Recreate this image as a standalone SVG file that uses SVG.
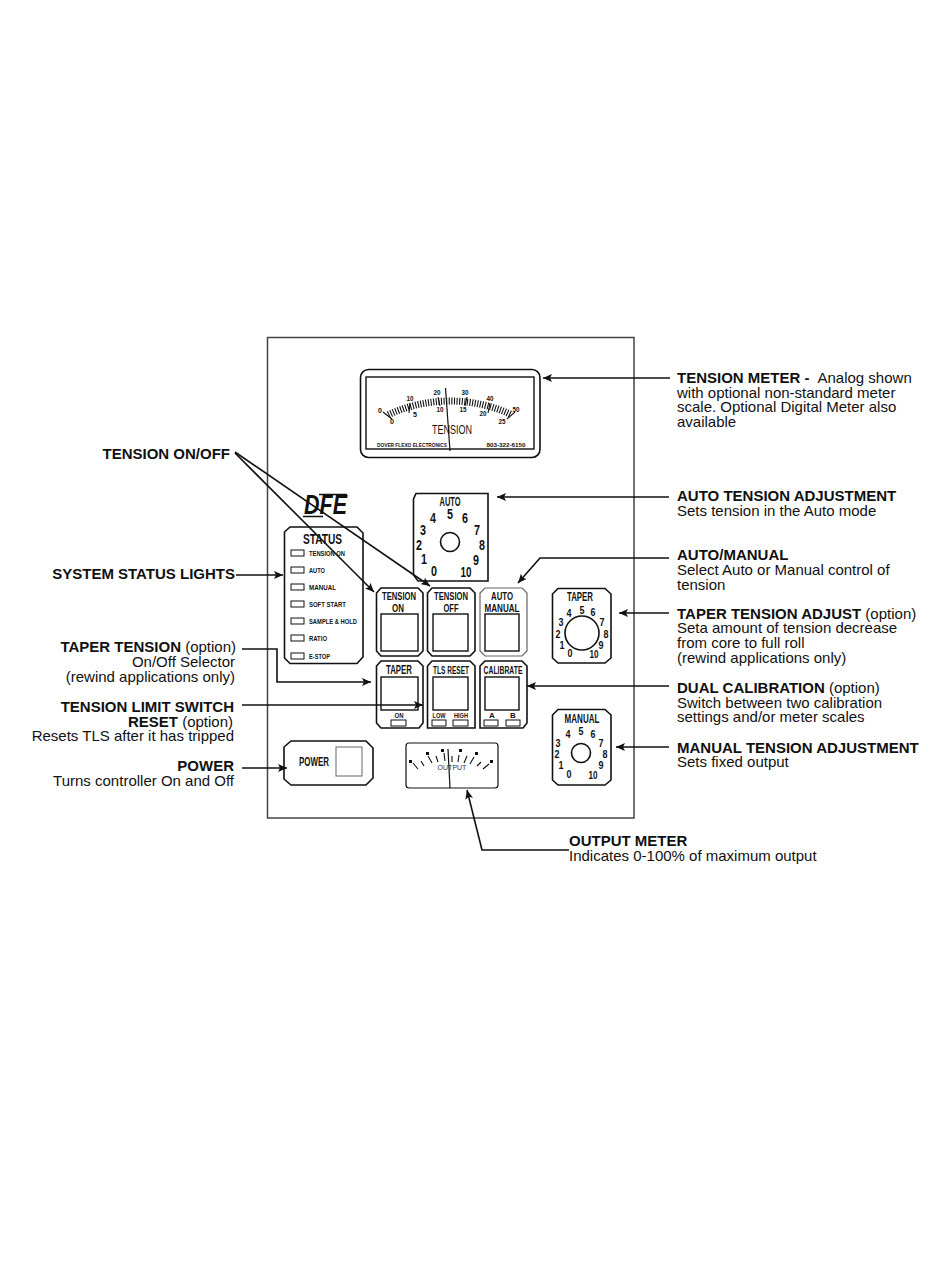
<svg xmlns="http://www.w3.org/2000/svg" width="950" height="1267" viewBox="0 0 950 1267">
<style>
text{font-family:"Liberation Sans",Arial,sans-serif;fill:#111}
.lb{font-size:15px;font-weight:700}
.tx{font-size:15px}
.r{text-anchor:end}
.n{font-weight:700;text-anchor:middle;font-size:10.500px}
.d{font-weight:700;text-anchor:middle;font-size:11px}
.a{font-weight:700;text-anchor:middle;font-size:14px}
.m{font-weight:700;text-anchor:middle;font-size:7px}
.s{font-weight:700;font-size:8px;text-anchor:start}
.o{fill:#fff;stroke:#111;stroke-width:1.6}
.w{fill:#fff;stroke:#111;stroke-width:1.4}
.t{fill:#fff;stroke:#666;stroke-width:1}
.l{fill:#fff;stroke:#111;stroke-width:1}
.c{fill:none;stroke:#111;stroke-width:1.6}
.k{fill:none;stroke:#111;stroke-width:1.1}
</style>
<defs><marker id="ah" markerUnits="userSpaceOnUse" markerWidth="10" markerHeight="8" refX="9" refY="4" orient="auto"><path d="M0 0L9 4L0 8L2 4Z" fill="#111"/></marker></defs>
<rect width="950" height="1267" fill="#fff"/>
<rect id="panel" x="267.5" y="337.5" width="366.5" height="480.5" fill="#fff" stroke="#444" stroke-width="1.5"/>

<g id="tension-meter">
<rect class="o" x="360.5" y="369.5" width="179.5" height="88" rx="8"/>
<rect class="w" x="366" y="377" width="168" height="72"/>
<path d="M388.3 414.7A146 146 0 0 1 511.7 414.7" fill="none" stroke="#111" stroke-width="7" stroke-dasharray="1.1 1.5"/>
<path class="k" d="M383 412L392 419M515 412L507 419M410 403L409 413M438 397L440 406M467 397L465 406M490 403L488 413"/>
<text class="m" x="380" y="413" textLength="4" lengthAdjust="spacingAndGlyphs">0</text><text class="m" x="410" y="401" textLength="7" lengthAdjust="spacingAndGlyphs">10</text><text class="m" x="437" y="395" textLength="7" lengthAdjust="spacingAndGlyphs">20</text><text class="m" x="465" y="395" textLength="7" lengthAdjust="spacingAndGlyphs">30</text><text class="m" x="490" y="401" textLength="7" lengthAdjust="spacingAndGlyphs">40</text><text class="m" x="516" y="412" textLength="7" lengthAdjust="spacingAndGlyphs">50</text>
<text class="m" x="392" y="424" textLength="4" lengthAdjust="spacingAndGlyphs">0</text><text class="m" x="415" y="417" textLength="4" lengthAdjust="spacingAndGlyphs">5</text><text class="m" x="440" y="412" textLength="7" lengthAdjust="spacingAndGlyphs">10</text><text class="m" x="463" y="412" textLength="7" lengthAdjust="spacingAndGlyphs">15</text><text class="m" x="483" y="416" textLength="7" lengthAdjust="spacingAndGlyphs">20</text><text class="m" x="502" y="424" textLength="7" lengthAdjust="spacingAndGlyphs">25</text>
<text x="452" y="434" text-anchor="middle" font-size="13" textLength="40" lengthAdjust="spacingAndGlyphs">TENSION</text>
<text class="m" style="font-size:6px" x="412" y="447" textLength="70" lengthAdjust="spacingAndGlyphs">DOVER FLEXO ELECTRONICS</text>
<text class="m" style="font-size:6px" x="506" y="447" textLength="39" lengthAdjust="spacingAndGlyphs">803-322-6150</text>
<path d="M445.5 388L450 451" fill="none" stroke="#111" stroke-width="1.2"/>
</g>

<g id="logo">
<text x="304" y="514" font-size="27" font-weight="700" font-style="italic" textLength="43" lengthAdjust="spacingAndGlyphs">DFE</text>
<path d="M303 516.500H323M319 494.500H347" fill="none" stroke="#111" stroke-width="1.5"/>
</g>

<g id="auto-dial">
<path class="o" d="M416 493.500H488V581H418L413.500 575V499Z"/>
<circle class="o" cx="450" cy="542" r="9.500"/>
<text class="n" x="450" y="506" style="font-size:12px" textLength="21" lengthAdjust="spacingAndGlyphs">AUTO</text>
<text class="a" textLength="6" lengthAdjust="spacingAndGlyphs" x="450" y="519">5</text><text class="a" textLength="6" lengthAdjust="spacingAndGlyphs" x="433" y="523">4</text><text class="a" textLength="6" lengthAdjust="spacingAndGlyphs" x="465" y="523">6</text><text class="a" textLength="6" lengthAdjust="spacingAndGlyphs" x="423" y="535">3</text><text class="a" textLength="6" lengthAdjust="spacingAndGlyphs" x="477" y="535">7</text><text class="a" textLength="6" lengthAdjust="spacingAndGlyphs" x="419" y="550">2</text><text class="a" textLength="6" lengthAdjust="spacingAndGlyphs" x="482" y="550">8</text><text class="a" textLength="6" lengthAdjust="spacingAndGlyphs" x="424" y="564">1</text><text class="a" textLength="6" lengthAdjust="spacingAndGlyphs" x="476" y="565">9</text><text class="a" textLength="6" lengthAdjust="spacingAndGlyphs" x="434" y="576">0</text><text class="a" textLength="11" lengthAdjust="spacingAndGlyphs" x="466" y="577">10</text>
</g>

<g id="status">
<path class="o" d="M290 527H357L363 533V657L357 663.500H290L284.500 658V532Z"/>
<text class="n" x="322.500" y="544" style="font-size:14px" textLength="39" lengthAdjust="spacingAndGlyphs">STATUS</text>
<rect class="l" x="291" y="550" width="13" height="6"/><rect class="l" x="291" y="567" width="13" height="6"/><rect class="l" x="291" y="584" width="13" height="6"/><rect class="l" x="291" y="601" width="13" height="6"/><rect class="l" x="291" y="618" width="13" height="6"/><rect class="l" x="291" y="635" width="13" height="6"/><rect class="l" x="291" y="653" width="13" height="6"/>
<text class="s" x="309" y="556" textLength="36" lengthAdjust="spacingAndGlyphs">TENSION ON</text>
<text class="s" x="309" y="573" textLength="16" lengthAdjust="spacingAndGlyphs">AUTO</text>
<text class="s" x="309" y="590" textLength="27" lengthAdjust="spacingAndGlyphs">MANUAL</text>
<text class="s" x="309" y="607" textLength="37" lengthAdjust="spacingAndGlyphs">SOFT START</text>
<text class="s" x="309" y="624" textLength="48" lengthAdjust="spacingAndGlyphs">SAMPLE &amp; HOLD</text>
<text class="s" x="309" y="641" textLength="18" lengthAdjust="spacingAndGlyphs">RATIO</text>
<text class="s" x="309" y="659" textLength="21" lengthAdjust="spacingAndGlyphs">E-STOP</text>
</g>

<g id="btn-tension-on">
<path class="o" d="M381 588H418L423 593V651L418 656H381L376.500 651V593Z"/>
<rect class="w" x="381" y="614" width="37" height="37"/>
<text class="n" x="399" y="600" textLength="34" lengthAdjust="spacingAndGlyphs">TENSION</text>
<text class="n" x="398" y="612" textLength="12" lengthAdjust="spacingAndGlyphs">ON</text>
</g>
<g id="btn-tension-off">
<path class="o" d="M432 588H470L475 593V651L470 656H432L427.500 651V593Z"/>
<rect class="w" x="433" y="614" width="35" height="37"/>
<text class="n" x="451" y="600" textLength="34" lengthAdjust="spacingAndGlyphs">TENSION</text>
<text class="n" x="451" y="612" textLength="15" lengthAdjust="spacingAndGlyphs">OFF</text>
</g>
<g id="btn-auto-manual">
<path d="M485 588H522L527 593V651L522 656H485L480 651V593Z" fill="#fff" stroke="#666" stroke-width="1.2"/>
<rect class="w" x="485" y="614" width="34" height="37"/>
<text class="n" x="502" y="600" textLength="22" lengthAdjust="spacingAndGlyphs">AUTO</text>
<text class="n" x="502" y="612" textLength="35" lengthAdjust="spacingAndGlyphs">MANUAL</text>
</g>
<g id="btn-taper">
<path class="o" d="M381 661H418L423 666V723L419 728H381L376.500 723V666Z"/>
<rect class="w" x="381" y="677" width="37" height="33"/>
<text class="n" x="399" y="674" style="font-size:12px" textLength="26" lengthAdjust="spacingAndGlyphs">TAPER</text>
<text class="n" x="399" y="718" style="font-size:8px" textLength="9" lengthAdjust="spacingAndGlyphs">ON</text>
<rect class="l" x="391" y="720" width="15" height="6"/>
</g>
<g id="btn-tls-reset">
<path class="o" d="M432 661H470L475 666V728H427.500V666Z"/>
<rect class="w" x="433" y="677" width="35" height="33"/>
<text class="n" x="451" y="674" style="font-size:10px" textLength="36" lengthAdjust="spacingAndGlyphs">TLS RESET</text>
<text class="n" x="439" y="718" style="font-size:8px" textLength="13" lengthAdjust="spacingAndGlyphs">LOW</text>
<text class="n" x="461" y="718" style="font-size:8px" textLength="14" lengthAdjust="spacingAndGlyphs">HIGH</text>
<rect class="l" x="432" y="720" width="14" height="6"/><rect class="l" x="453" y="720" width="15" height="6"/>
</g>
<g id="btn-calibrate">
<path class="o" d="M485 661H522L527 666V723L523 728H480V666Z"/>
<rect class="w" x="485" y="677" width="34" height="33"/>
<text class="n" x="503" y="674" style="font-size:10px" textLength="39" lengthAdjust="spacingAndGlyphs">CALIBRATE</text>
<text class="n" x="492" y="718" style="font-size:8px">A</text>
<text class="n" x="513" y="718" style="font-size:8px">B</text>
<rect class="l" x="484" y="720" width="14" height="6"/><rect class="l" x="506" y="720" width="14" height="6"/>
</g>

<g id="taper-dial">
<path class="o" d="M558 588.500H605L611 594V658L605 663H558L552.500 658V594Z"/>
<circle class="o" cx="582" cy="633" r="17"/>
<text class="n" x="580" y="601" style="font-size:12px" textLength="26" lengthAdjust="spacingAndGlyphs">TAPER</text>
<text class="d" textLength="5" lengthAdjust="spacingAndGlyphs" x="582" y="614">5</text><text class="d" textLength="5" lengthAdjust="spacingAndGlyphs" x="569" y="617">4</text><text class="d" textLength="5" lengthAdjust="spacingAndGlyphs" x="593" y="616">6</text><text class="d" textLength="5" lengthAdjust="spacingAndGlyphs" x="561" y="626">3</text><text class="d" textLength="5" lengthAdjust="spacingAndGlyphs" x="602" y="626">7</text><text class="d" textLength="5" lengthAdjust="spacingAndGlyphs" x="558" y="638">2</text><text class="d" textLength="5" lengthAdjust="spacingAndGlyphs" x="606" y="638">8</text><text class="d" textLength="5" lengthAdjust="spacingAndGlyphs" x="562" y="649">1</text><text class="d" textLength="5" lengthAdjust="spacingAndGlyphs" x="601" y="649">9</text><text class="d" textLength="5" lengthAdjust="spacingAndGlyphs" x="570" y="657">0</text><text class="d" textLength="9" lengthAdjust="spacingAndGlyphs" x="594" y="658">10</text>
</g>
<g id="manual-dial">
<path class="o" d="M558 709.500H605L611 715V780L605 785H558L552.500 780V715Z"/>
<circle class="o" cx="581" cy="753" r="9.500"/>
<text class="n" x="582" y="723" style="font-size:12px" textLength="35" lengthAdjust="spacingAndGlyphs">MANUAL</text>
<text class="d" textLength="5" lengthAdjust="spacingAndGlyphs" x="581" y="735">5</text><text class="d" textLength="5" lengthAdjust="spacingAndGlyphs" x="568" y="738">4</text><text class="d" textLength="5" lengthAdjust="spacingAndGlyphs" x="593" y="738">6</text><text class="d" textLength="5" lengthAdjust="spacingAndGlyphs" x="558" y="747">3</text><text class="d" textLength="5" lengthAdjust="spacingAndGlyphs" x="601" y="747">7</text><text class="d" textLength="5" lengthAdjust="spacingAndGlyphs" x="557" y="758">2</text><text class="d" textLength="5" lengthAdjust="spacingAndGlyphs" x="605" y="758">8</text><text class="d" textLength="5" lengthAdjust="spacingAndGlyphs" x="561" y="769">1</text><text class="d" textLength="5" lengthAdjust="spacingAndGlyphs" x="601" y="769">9</text><text class="d" textLength="5" lengthAdjust="spacingAndGlyphs" x="569" y="778">0</text><text class="d" textLength="9" lengthAdjust="spacingAndGlyphs" x="593" y="779">10</text>
</g>

<g id="power">
<path class="o" d="M291 741H366L373 748V778L366 785H291L284 779V747Z"/>
<text class="n" x="314" y="766" style="font-size:13px" textLength="30" lengthAdjust="spacingAndGlyphs">POWER</text>
<rect class="t" x="336" y="747" width="26" height="29"/>
</g>

<g id="output-meter">
<rect class="o" style="stroke-width:1.2" x="406" y="743" width="92" height="45" rx="3"/>
<path class="k" d="M413 763L418 769M421 761L424 766M428 756L432 763M436 756L438 762M444 753L445 761M452 756V762M459 755L458 762M467 756L464 763M474 757L470 764M481 762L477 766M489 764L483 769"/>
<path d="M409 760h3v3h-3zM426 752h3v3h-3zM441 749h3v3h-3zM459 749h3v3h-3zM475 752h3v3h-3zM490 760h3v3h-3z" fill="#111"/>
<text x="452" y="770" text-anchor="middle" font-size="7" style="fill:#333">OUTPUT</text>
<path d="M448 749L450 788" fill="none" stroke="#111" stroke-width="1.2"/>
</g>

<g id="connectors">
<path class="c" marker-end="url(#ah)" d="M670 378H543"/>
<path class="c" marker-end="url(#ah)" d="M669 497H497"/>
<path class="c" marker-end="url(#ah)" d="M669 558H540L518 583"/>
<path class="c" marker-end="url(#ah)" d="M669 613H619"/>
<path class="c" marker-end="url(#ah)" d="M669 686H527"/>
<path class="c" marker-end="url(#ah)" d="M669 747H616"/>
<path class="c" marker-end="url(#ah)" d="M569 850H482L467 790"/>
<path class="c" marker-end="url(#ah)" d="M235 453L374 592"/>
<path class="c" marker-end="url(#ah)" d="M235 452L430 586"/>
<path class="c" marker-end="url(#ah)" d="M236 575H283"/>
<path class="c" marker-end="url(#ah)" d="M242 649H277V682H371"/>
<path class="c" marker-end="url(#ah)" d="M242 705H423"/>
<path class="c" marker-end="url(#ah)" d="M242 768H287"/>
</g>

<g id="labels-right">
<text class="lb" x="677" y="383">TENSION METER -<tspan class="tx" style="font-weight:400" x="817.500">Analog shown</tspan></text>
<text class="tx" x="677" y="397.500">with optional non-standard meter</text>
<text class="tx" x="677" y="412">scale. Optional Digital Meter also</text>
<text class="tx" x="677" y="427">available</text>
<text class="lb" x="677" y="501">AUTO TENSION ADJUSTMENT</text>
<text class="tx" x="677" y="516">Sets tension in the Auto mode</text>
<text class="lb" x="677" y="560">AUTO/MANUAL</text>
<text class="tx" x="677" y="575">Select Auto or Manual control of</text>
<text class="tx" x="677" y="590">tension</text>
<text class="lb" x="677" y="618.500">TAPER TENSION ADJUST <tspan style="font-weight:400">(option)</tspan></text>
<text class="tx" x="677" y="633">Seta amount of tension decrease</text>
<text class="tx" x="677" y="648">from core to full roll</text>
<text class="tx" x="677" y="663">(rewind applications only)</text>
<text class="lb" x="677" y="693">DUAL CALIBRATION <tspan style="font-weight:400">(option)</tspan></text>
<text class="tx" x="677" y="707.500">Switch between two calibration</text>
<text class="tx" x="677" y="722">settings and/or meter scales</text>
<text class="lb" x="677" y="752.500">MANUAL TENSION ADJUSTMENT</text>
<text class="tx" x="677" y="767">Sets fixed output</text>
<text class="lb" x="569" y="846">OUTPUT METER</text>
<text class="tx" x="569" y="861">Indicates 0-100% of maximum output</text>
</g>
<g id="labels-left">
<text class="lb r" x="230" y="459">TENSION ON/OFF</text>
<text class="lb r" x="235" y="579">SYSTEM STATUS LIGHTS</text>
<text class="lb r" x="236" y="652">TAPER TENSION <tspan style="font-weight:400">(option)</tspan></text>
<text class="tx r" x="235" y="667">On/Off Selector</text>
<text class="tx r" x="235" y="682">(rewind applications only)</text>
<text class="lb r" x="234" y="712">TENSION LIMIT SWITCH</text>
<text class="lb r" x="233" y="727">RESET <tspan style="font-weight:400">(option)</tspan></text>
<text class="tx r" x="234" y="741">Resets TLS after it has tripped</text>
<text class="lb r" x="234" y="771">POWER</text>
<text class="tx r" x="234" y="786">Turns controller On and Off</text>
</g>
</svg>
